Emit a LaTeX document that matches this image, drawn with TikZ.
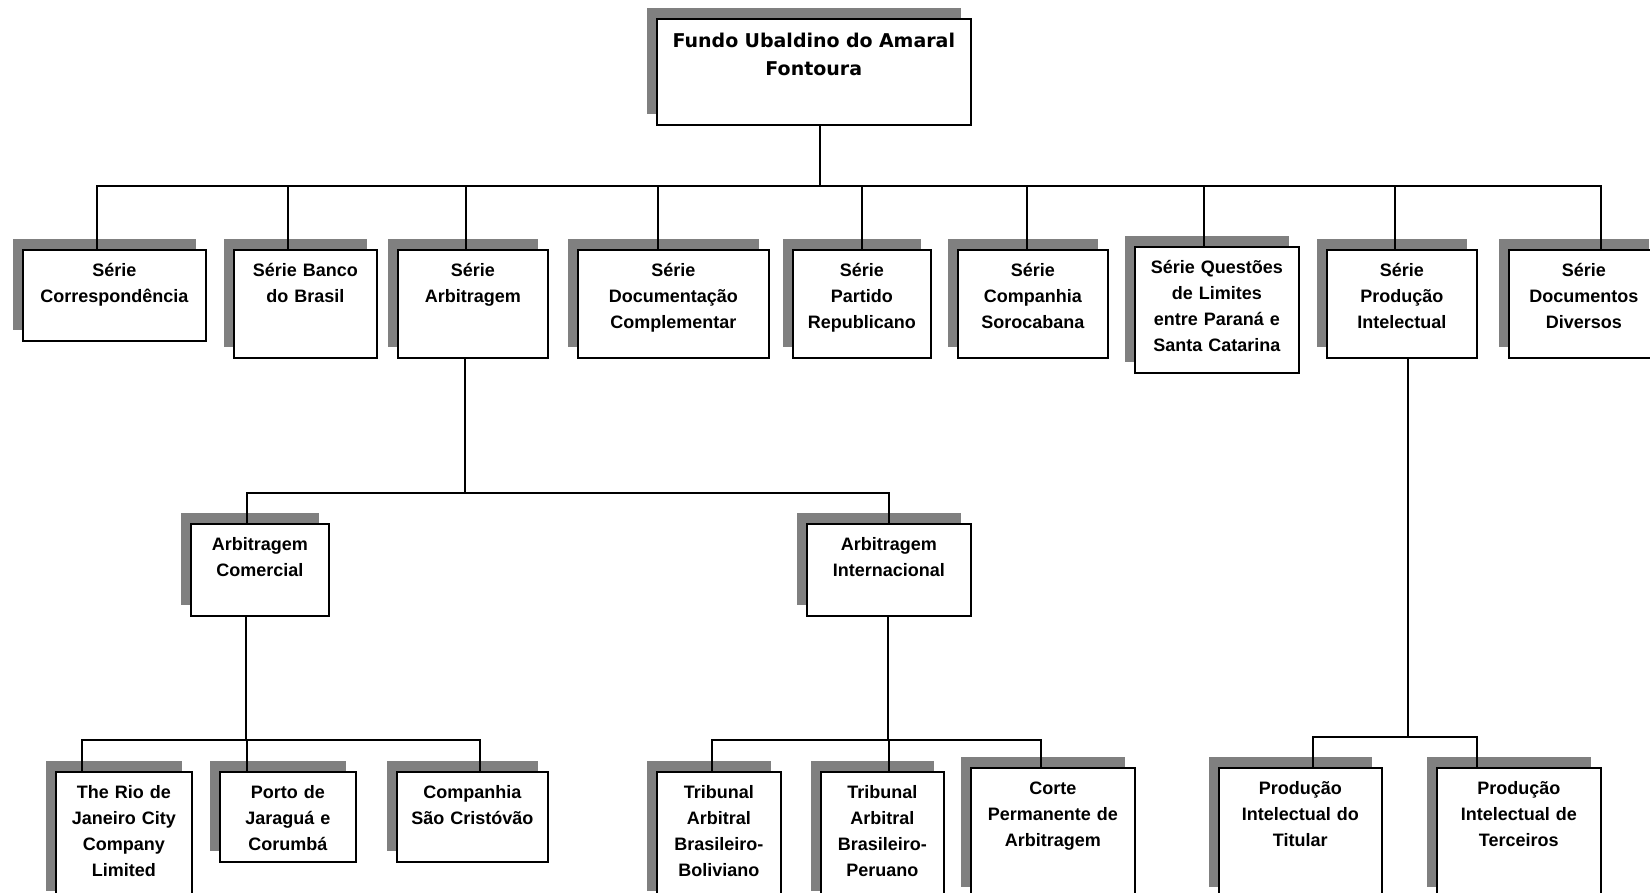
\documentclass[tikz,border=0pt]{standalone}
\usepackage{fontspec}
\setmainfont{Liberation Sans}
\newfontfamily\headfont{DejaVu Sans}
\usetikzlibrary{shadows}
\definecolor{cshadow}{HTML}{808080}
\tikzset{
  every picture/.style={line width=1.6pt},
  unit/.style 2 args={draw=black, fill=white, anchor=north west, inner sep=0pt, align=center,
    text width=#1pt, text height=27pt, text depth=#2pt,
    font=\bfseries\fontsize{18}{26}\selectfont,
    general shadow={fill=cshadow, shadow xshift=-10pt, shadow yshift=11pt}},
  link/.style={draw=black, line width=1.6pt},
}

\begin{document}
\begin{tikzpicture}[x=1pt, y=-1pt]
  \useasboundingbox (0,0) rectangle (1650,892);
  % fundo
  \node[unit={314}{77}, text height=29pt, font=\headfont\bfseries\fontsize{19}{28}\selectfont] (top) at (656,18) {Fundo Ubaldino do Amaral\\Fontoura};
  % series
  \node[unit={183}{64}] (c1) at (22,249) {Série\\Correspondência};
  \node[unit={143}{81}] (c2) at (233,249) {Série Banco\\do Brasil};
  \node[unit={150}{81}] (c3) at (397,249) {Série\\Arbitragem};
  \node[unit={191}{81}] (c4) at (577,249) {Série\\Documentação\\Complementar};
  \node[unit={138}{81}] (c5) at (792,249) {Série\\Partido\\Republicano};
  \node[unit={150}{81}] (c6) at (957,249) {Série\\Companhia\\Sorocabana};
  \node[unit={164}{99}] (c7) at (1134,246) {Série Questões\\de Limites\\entre Paraná e\\Santa Catarina};
  \node[unit={150}{81}] (c8) at (1326,249) {Série\\Produção\\Intelectual};
  \node[unit={150}{81}] (c9) at (1508,249) {Série\\Documentos\\Diversos};
  % arbitragem
  \node[unit={138}{65}] (d1) at (190,523) {Arbitragem\\Comercial};
  \node[unit={164}{65}] (d2) at (806,523) {Arbitragem\\Internacional};
  \node[unit={136}{103}] (e1) at (55,771) {The Rio de\\Janeiro City\\Company\\Limited};
  \node[unit={136}{63}] (e2) at (219,771) {Porto de\\Jaraguá e\\Corumbá};
  \node[unit={151}{63}] (e3) at (396,771) {Companhia\\São Cristóvão};
  \node[unit={124}{103}] (e4) at (656,771) {Tribunal\\Arbitral\\Brasileiro-\\Boliviano};
  \node[unit={123}{103}] (e5) at (820,771) {Tribunal\\Arbitral\\Brasileiro-\\Peruano};
  \node[unit={164}{103}] (e6) at (970,767) {Corte\\Permanente de\\Arbitragem};
  % producao intelectual
  \node[unit={163}{103}] (e7) at (1218,767) {Produção\\Intelectual do\\Titular};
  \node[unit={164}{103}] (e8) at (1436,767) {Produção\\Intelectual de\\Terceiros};
  % links
  \coordinate (j1) at (820,186);
  \coordinate (j2) at (465,493);
  \coordinate (j3) at (246,740);
  \coordinate (j4) at (888,740);
  \coordinate (j5) at (1408,737);
  \draw[link] (j1 |- top.south) -- (j1);
  \foreach \n/\dx in {c1/-17.5, c2/-17.5, c3/-7, c4/-15.5, c5/0, c6/-6, c7/-13, c8/-7, c9/17}
    \draw[link] (j1) -| ([xshift=\dx pt]\n.north);
  \draw[link] (j2 |- c3.south) -- (j2);
  \foreach \n/\dx in {d1/-13, d2/0}
    \draw[link] (j2) -| ([xshift=\dx pt]\n.north);
  \draw[link] (j3 |- d1.south) -- (j3);
  \foreach \n/\dx in {e1/-42, e2/-41, e3/7.5}
    \draw[link] (j3) -| ([xshift=\dx pt]\n.north);
  \draw[link] (j4 |- d2.south) -- (j4);
  \foreach \n/\dx in {e4/-7, e5/6.5, e6/-12}
    \draw[link] (j4) -| ([xshift=\dx pt]\n.north);
  \draw[link] (j5 |- c8.south) -- (j5);
  \foreach \n/\dx in {e7/12.5, e8/-42}
    \draw[link] (j5) -| ([xshift=\dx pt]\n.north);
\end{tikzpicture}
\end{document}
